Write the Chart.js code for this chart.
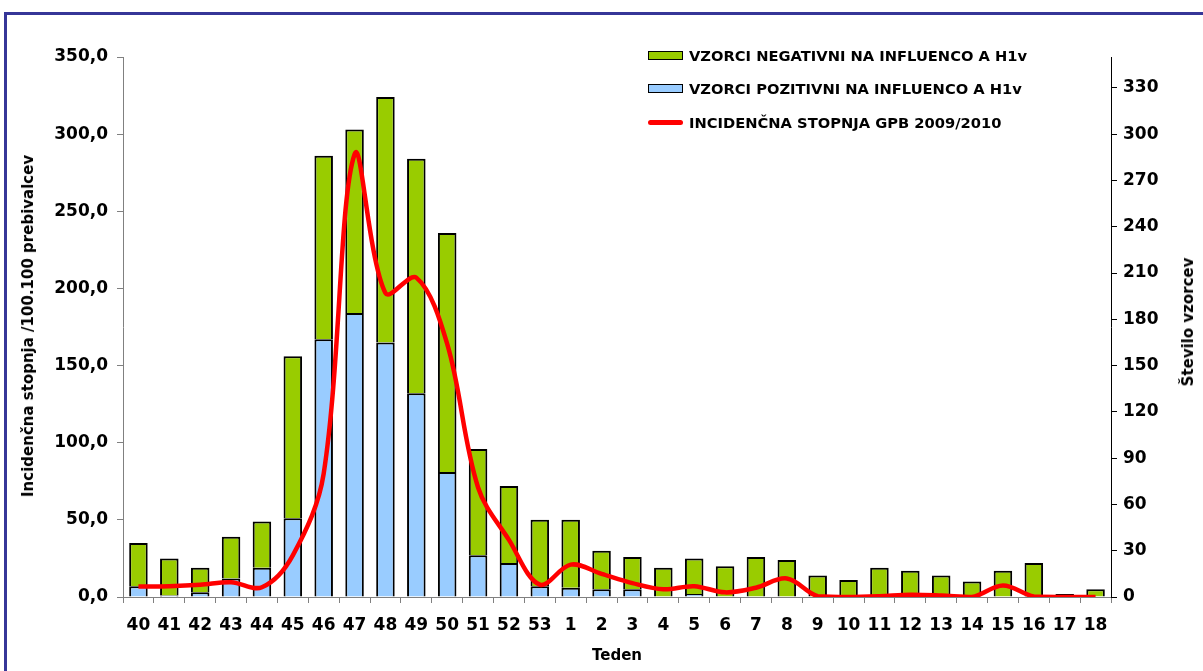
<!DOCTYPE html>
<html>
<head>
<meta charset="utf-8">
<script src="https://cdn.jsdelivr.net/npm/chart.js@4/dist/chart.umd.min.js"></script>
<style>
  html, body { margin: 0; padding: 0; background: #fff; }
  #wrap { position: relative; width: 1203px; height: 671px; overflow: hidden; font-family: "DejaVu Sans", Verdana, sans-serif; font-weight: bold; }
  #frame { position: absolute; left: 4px; top: 12px; width: 1260px; height: 720px; border: 3px solid #363698; box-sizing: border-box; }
  #chartBox { position: absolute; left: 0; top: 0; width: 1203px; height: 671px; }
  .vtitle { position: absolute; white-space: nowrap; font-size: 15px; transform: translate(-50%, -50%) rotate(-90deg); }
  .legend-row { position: absolute; left: 648px; height: 20px; display: flex; align-items: center; font-size: 14.7px; white-space: nowrap; }
  .swatch { width: 35px; height: 9px; box-sizing: border-box; border: 1.5px solid #000; margin-right: 6px; }
  .swatch.line { height: 5px; border: none; background: #ff0000; border-radius: 3px; }
</style>
</head>
<body>
<div id="wrap">
  <div id="frame"></div>
  <div id="chartBox"><canvas id="fluChart"></canvas></div>
  <div class="vtitle" style="left:28px; top:326px;">Incidenčna stopnja /100.100 prebivalcev</div>
  <div class="vtitle" style="left:1188px; top:322px;">Število vzorcev</div>
  <div style="position:absolute; left:617px; top:655px; transform:translate(-50%,-50%); font-size:15px;">Teden</div>
  <div class="legend-row" style="top:45px;"><div class="swatch" style="background:#99cc00"></div>VZORCI NEGATIVNI NA INFLUENCO A H1v</div>
  <div class="legend-row" style="top:78px;"><div class="swatch" style="background:#99ccff"></div>VZORCI POZITIVNI NA INFLUENCO A H1v</div>
  <div class="legend-row" style="top:112px;"><div class="swatch line"></div>INCIDENČNA STOPNJA GPB 2009/2010</div>
</div>
<script>
// tedni sezone 2009/2010
const weeks = ['40', '41', '42', '43', '44', '45', '46', '47', '48', '49', '50', '51', '52', '53',
  '1', '2', '3', '4', '5', '6', '7', '8', '9', '10', '11', '12', '13', '14', '15', '16', '17', '18'];

// stevilo vzorcev (desna os)
const positiveSamples = [7, 1, 3, 12, 19, 51, 167, 184, 165, 132, 81, 27, 22, 7,
  6, 5, 5, 0, 2, 0, 0, 0, 0, 0, 0, 0, 0, 0, 0, 0, 0, 0];
const negativeSamples = [28, 24, 16, 27, 30, 105, 119, 119, 159, 152, 155, 69, 50, 43,
  44, 25, 21, 19, 23, 20, 26, 24, 14, 11, 19, 17, 14, 10, 17, 22, 2, 5];

// incidencna stopnja (leva os)
const incidence = [6.8, 7, 7.9, 9.6, 6.3, 27, 80, 287, 197, 207, 164, 71, 37, 8,
  21, 15, 9, 5, 7, 3, 6, 12, 0.5, 0, 0.5, 1.5, 1, 0, 7.5, 0.3, 0, 0];

const leftTicks = [0, 50, 100, 150, 200, 250, 300, 350];
const rightTicks = [0, 30, 60, 90, 120, 150, 180, 210, 240, 270, 300, 330];

const tickFont = { family: '"DejaVu Sans", Verdana, sans-serif', size: 17, weight: 'bold' };

new Chart(document.getElementById('fluChart'), {
  type: 'bar',
  data: {
    labels: weeks,
    datasets: [
      {
        type: 'line',
        label: 'INCIDENČNA STOPNJA GPB 2009/2010',
        data: incidence,
        yAxisID: 'y',
        borderColor: '#ff0000',
        borderWidth: 4.5,
        pointRadius: 0,
        tension: 0.35,
        fill: false,
        order: 0
      },
      {
        label: 'VZORCI POZITIVNI NA INFLUENCO A H1v',
        data: positiveSamples,
        yAxisID: 'y1',
        backgroundColor: '#99ccff',
        borderColor: '#000',
        borderWidth: 2,
        stack: 'vzorci',
        order: 1
      },
      {
        label: 'VZORCI NEGATIVNI NA INFLUENCO A H1v',
        data: negativeSamples,
        yAxisID: 'y1',
        backgroundColor: '#99cc00',
        borderColor: '#000',
        borderWidth: 2,
        stack: 'vzorci',
        order: 1
      }
    ]
  },
  options: {
    responsive: true,
    maintainAspectRatio: false,
    animation: false,
    layout: { padding: { top: 57, left: 0, right: 0, bottom: 0 } },
    datasets: { bar: { categoryPercentage: 1, barPercentage: 0.6 } },
    plugins: { legend: { display: false }, tooltip: { enabled: false } },
    scales: {
      x: {
        stacked: true,
        grid: { drawOnChartArea: false, offset: true, tickLength: 6, color: '#808080' },
        border: { color: '#808080' },
        ticks: { font: tickFont, color: '#000', padding: 12, maxRotation: 0, autoSkip: false },
        afterFit: (scale) => { scale.height = 74; }
      },
      y: {
        position: 'left',
        stacked: false,
        min: 0,
        max: 350,
        afterBuildTicks: (scale) => { scale.ticks = leftTicks.map(v => ({ value: v })); },
        ticks: {
          font: tickFont, color: '#000', padding: 9,
          callback: (v) => v.toFixed(1).replace('.', ',')
        },
        grid: { drawOnChartArea: false, tickLength: 6, color: '#808080' },
        border: { color: '#808080' },
        afterFit: (scale) => { scale.width = 123; }
      },
      y1: {
        position: 'right',
        stacked: true,
        min: 0,
        max: 350,
        afterBuildTicks: (scale) => { scale.ticks = rightTicks.map(v => ({ value: v })); },
        ticks: { font: tickFont, color: '#000', padding: 6 },
        grid: { drawOnChartArea: false, tickLength: 6, color: '#000' },
        border: { color: '#000' },
        afterFit: (scale) => { scale.width = 92; }
      }
    }
  }
});
</script>
</body>
</html>
